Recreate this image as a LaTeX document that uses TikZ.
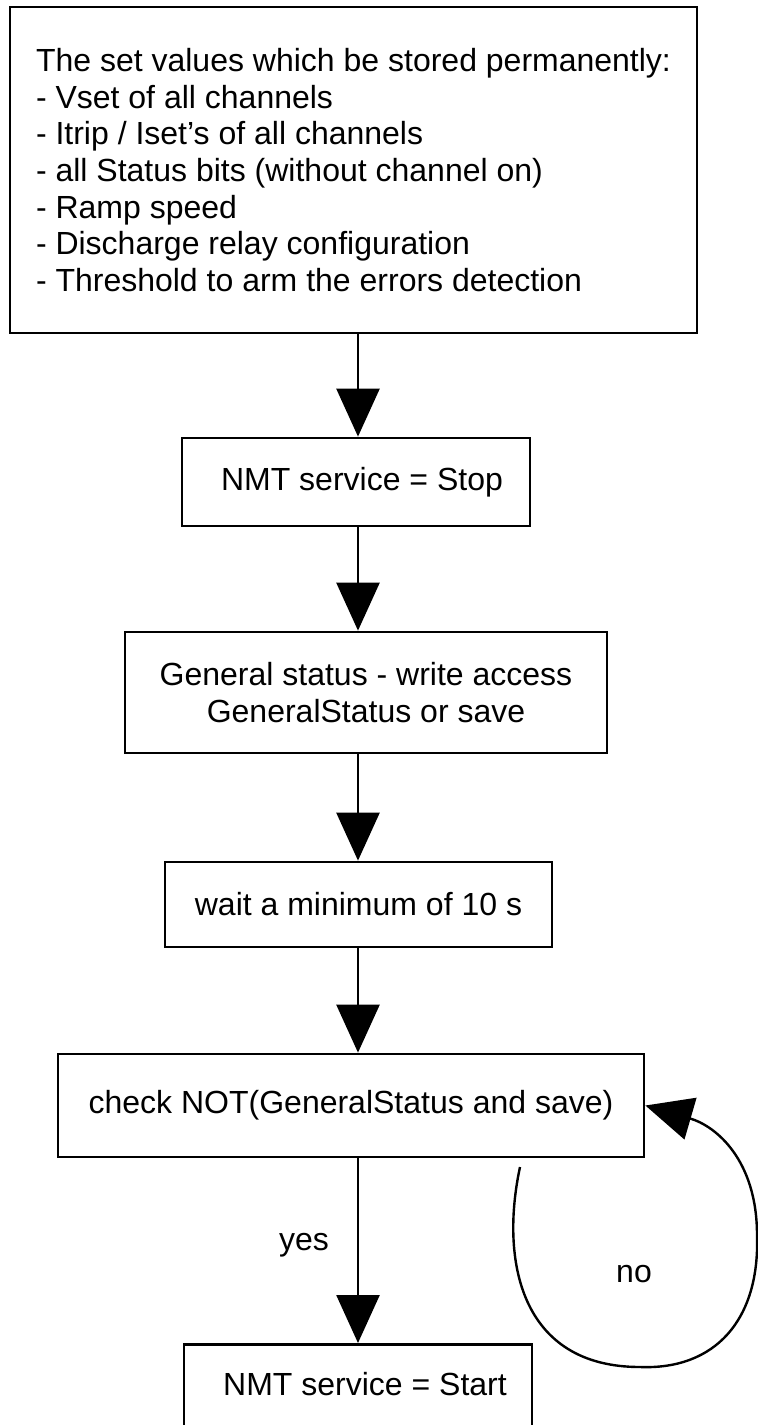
\documentclass[tikz,border=0pt]{standalone}
\usepackage{fontspec}
\setmainfont{Liberation Sans}
\usetikzlibrary{arrows.meta}
\begin{document}
\begin{tikzpicture}[x=1pt,y=-1pt,
  every node/.style={font=\fontsize{32}{36.7}\selectfont},
  boxnode/.style={draw=black,line width=2.8pt,inner sep=0pt,align=center},
  arr/.style={line width=2.6pt,-{Triangle[length=48pt,width=43pt]}},
  looparr/.style={line width=2.4pt,-{Triangle[length=47pt,width=43pt]}},
  lbl/.style={inner sep=0pt}]
\useasboundingbox (0,0) rectangle (758,1425);
\clip (0,0) rectangle (758,1425);
\fill[white] (0,0) rectangle (758,1425);
\coordinate (ax) at (358,0);
\node[boxnode,minimum width=687pt,minimum height=326pt,align=left] (b1) at (353.5,170)
  {The set values which be stored permanently:\\
   - Vset of all channels\\
   - Itrip / Iset's of all channels\\
   - all Status bits (without channel on)\\
   - Ramp speed\\
   - Discharge relay configuration\\
   - Threshold to arm the errors detection};
\node[boxnode,minimum width=348pt,minimum height=88pt] (b2) at (356,482) {\hspace*{12pt}NMT service = Stop};
\node[boxnode,minimum width=482pt,minimum height=121pt] (b3) at (366,692.5)
  {General status - write access\\GeneralStatus or save};
\node[boxnode,minimum width=387pt,minimum height=85pt] (b4) at (358.5,904.5) {wait a minimum of 10 s};
\node[boxnode,minimum width=586pt,minimum height=103pt] (b5) at (351,1105.5) {check NOT(GeneralStatus and save)};
\node[boxnode,minimum width=348pt,anchor=north,inner ysep=29pt,text height=22pt,text depth=80pt] (b6) at (358,1343) {\hspace*{14pt}NMT service = Start};
\draw[arr] (b1.south -| ax) -- (b2.north -| ax);
\draw[arr] (b2.south -| ax) -- (b3.north -| ax);
\draw[arr] (b3.south -| ax) -- (b4.north -| ax);
\draw[arr] (b4.south -| ax) -- (b5.north -| ax);
\draw[arr] (b5.south -| ax) -- (b6.north -| ax);
\coordinate (ls) at (520,1167);
\draw[looparr] (ls) .. controls (500,1260) and (520,1367) .. (640,1367)
  .. controls (715,1370) and (760,1320) .. (757,1235)
  .. controls (757,1160) and (716,1126) .. (b5.east);
\node[lbl] (yes) at (304,1245) {yes};
\node[lbl] (no) at (634,1274) {no};
\end{tikzpicture}
\end{document}
